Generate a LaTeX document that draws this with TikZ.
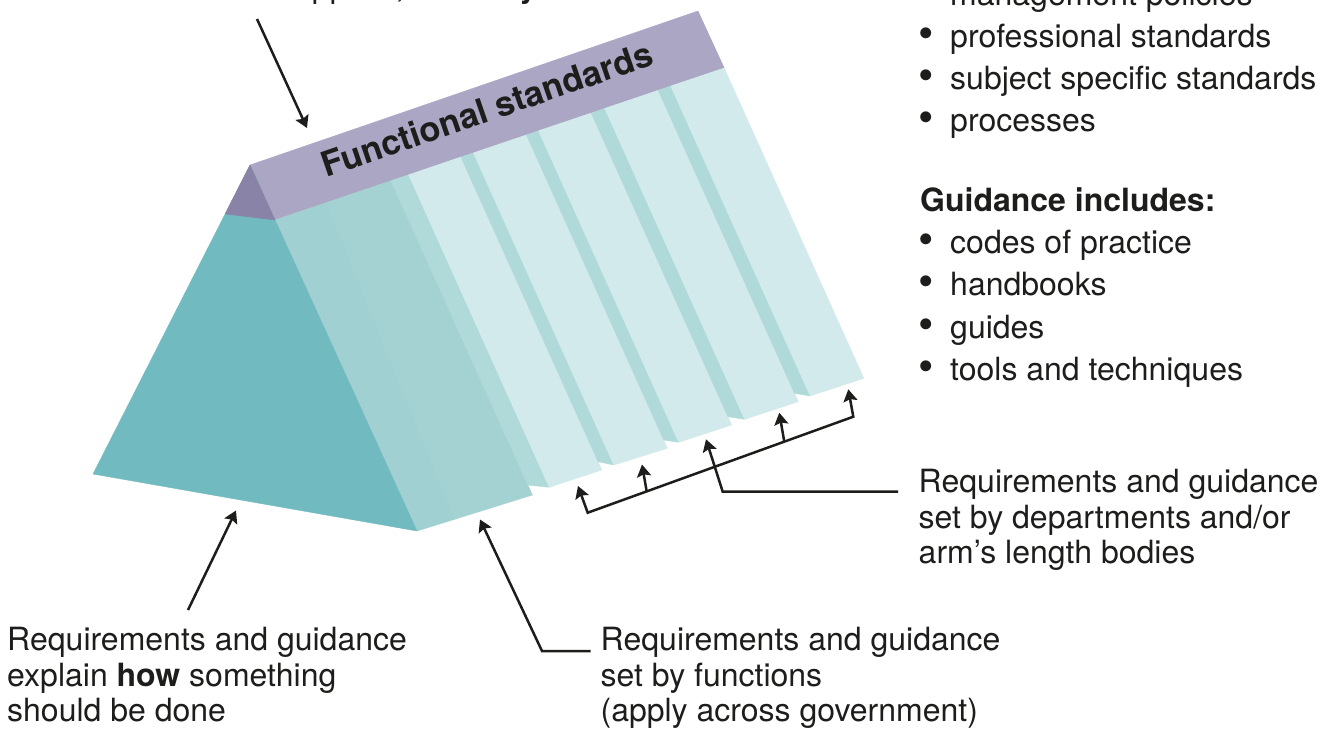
\documentclass[tikz,border=0pt]{standalone}
\usepackage{fontspec}
\setmainfont{TeX Gyre Heros}
\usetikzlibrary{arrows.meta,calc}
\definecolor{ink}{HTML}{1D1D1B}
\definecolor{frontteal}{HTML}{71BBC0}
\definecolor{capviolet}{HTML}{8A83A8}
\definecolor{roofviolet}{HTML}{AAA6C4}
\definecolor{funcA}{HTML}{A1D0D2}
\definecolor{funcB}{HTML}{A4D2D3}
\definecolor{riser}{HTML}{B0D9D9}
\definecolor{leaf}{HTML}{D2EAEB}
\newcommand\bul{\llap{{\fontsize{44}{44}\selectfont\raisebox{-1.5pt}{•}}\hspace{16pt}}}
\begin{document}
\begin{tikzpicture}[x=1pt,y=-1pt,
  face/.style={fill=#1,draw=#1,line width=0.4pt,line join=round},
  lbl/.style={anchor=base west,inner sep=0pt,text=ink,font=\fontsize{32}{38}\selectfont},
  tip/.style={Stealth[length=12pt,width=14pt,inset=2pt]},
  conn/.style={draw=ink,line width=2.5pt,-{Stealth[length=12pt,width=14pt,inset=2pt]}},
  bothconn/.style={draw=ink,line width=2.5pt,{Stealth[length=12pt,width=14pt,inset=2pt]}-{Stealth[length=12pt,width=14pt,inset=2pt]}}]
\useasboundingbox (0,0) rectangle (1343,729);

% roof strip
\fill[face=roofviolet] (250,165) -- (698,11) -- (724.2,68) -- (275,220) -- cycle;

% functional slab (two shades)
\fill[face=funcA] (275,220) -- (326.7,202.5) -- (455,519.2) -- (417,531) -- cycle;
\fill[face=funcB] (326.7,202.5) -- (391,180.7) -- (532.4,495) -- (455,519.2) -- cycle;

% departmental leaves and their step faces
\fill[face=riser] (391,180.7) -- (408.6,174.8) -- (549.2,487.3) -- (527.9,485) -- cycle;
\fill[face=leaf] (408.6,174.8) -- (460.9,157.0) -- (601.8,470) -- (549.2,487.3) -- cycle;
\fill[face=riser] (460.9,157.0) -- (473.4,152.9) -- (613.8,465) -- (598.1,461.7) -- cycle;
\fill[face=leaf] (473.4,152.9) -- (526.4,134.9) -- (667.4,448.3) -- (613.8,465) -- cycle;
\fill[face=riser] (526.4,134.9) -- (538.5,130.8) -- (678.7,442.3) -- (663.7,440) -- cycle;
\fill[face=leaf] (538.5,130.8) -- (591.2,113.0) -- (731.6,425) -- (678.7,442.3) -- cycle;
\fill[face=riser] (591.2,113.0) -- (604.7,108.4) -- (744.6,419.3) -- (727.9,416.7) -- cycle;
\fill[face=leaf] (604.7,108.4) -- (658.2,90.3) -- (798.3,401.7) -- (744.6,419.3) -- cycle;
\fill[face=riser] (658.2,90.3) -- (670.7,86.0) -- (810.2,396) -- (794.5,393.3) -- cycle;
\fill[face=leaf] (670.7,86.0) -- (724.2,68.0) -- (863.8,378.3) -- (810.2,396) -- cycle;

% front face of the prism
\fill[face=frontteal] (250,165) -- (93,474) -- (417,531) -- cycle;
\fill[face=capviolet] (250,165) -- (225.1,214) -- (275,220) -- cycle;

% label on the roof
\node[anchor=base,inner sep=0pt,text=ink,rotate=19,font=\fontsize{34.5}{40}\selectfont\bfseries]
  (roof) at (491,121) {Functional standards};

% text blocks
\node[lbl] (topnote) at (217.5,-2.5) {what applies, and \textbf{why}};

\node[lbl] (r0) at (950,5) {management policies};
\node[lbl] (r1) at (950,47) {\bul professional standards};
\node[lbl] (r2) at (950,89) {\bul subject specific standards};
\node[lbl] (r3) at (950,131) {\bul processes};
\node[lbl,font=\fontsize{32}{38}\selectfont\bfseries] (g0) at (920,211) {Guidance includes:};
\node[lbl] (g1) at (950,253) {\bul codes of practice};
\node[lbl] (g2) at (950,295) {\bul handbooks};
\node[lbl] (g3) at (950,338) {\bul guides};
\node[lbl] (g4) at (950,380) {\bul tools and techniques};

\node[lbl] (dep1) at (918.5,492) {Requirements and guidance};
\node[lbl] (dep2) at (918.5,528) {set by departments and/or};
\node[lbl] (dep3) at (918.5,563.5) {arm’s length bodies};

\node[lbl] (how1) at (7,650) {Requirements and guidance};
\node[lbl] (how2) at (7,686) {explain \textbf{how} something};
\node[lbl] (how3) at (7,721.5) {should be done};

\node[lbl] (fn1) at (600.5,650) {Requirements and guidance};
\node[lbl] (fn2) at (600.5,686) {set by functions};
\node[lbl] (fn3) at (600.5,721.5) {(apply across government)};

% connector end points
\coordinate (topTail) at (257,19);
\coordinate (roofTip) at (307,128);
\coordinate (howTail) at (188,610);
\coordinate (howTip) at (236,510.5);
\coordinate (fnTip) at (480,519.5);
\coordinate (fnBend) at (542,651);
\coordinate (bkL) at (587.7,512.7);
\coordinate (bkR) at (853.3,416.7);
\coordinate (bkTipL) at (578,486);
\coordinate (bkTipR) at (848.3,389.3);
\coordinate (bkTip1) at (642,464.5);
\coordinate (bkTip2) at (779.3,412.7);
\coordinate (depBend) at (722.7,491.7);
\coordinate (depTip) at (706,439.3);

% connectors
\draw[conn] (topTail) -- (roofTip);
\draw[conn] (howTail) -- (howTip);
\draw[conn] ($(fn1.base west)+(-10,1)$) -- (fnBend) -- (fnTip);
\draw[bothconn] (bkTipL) -- (bkL) -- (bkR) -- (bkTipR);
\draw[conn] ($(bkL)!0.222!(bkR)$) -- (bkTip1);
\draw[conn] ($(bkL)!0.740!(bkR)$) -- (bkTip2);
\draw[conn] ($(dep1.base west)+(-20.5,-0.3)$) -- (depBend) -- (depTip);
\end{tikzpicture}
\end{document}
